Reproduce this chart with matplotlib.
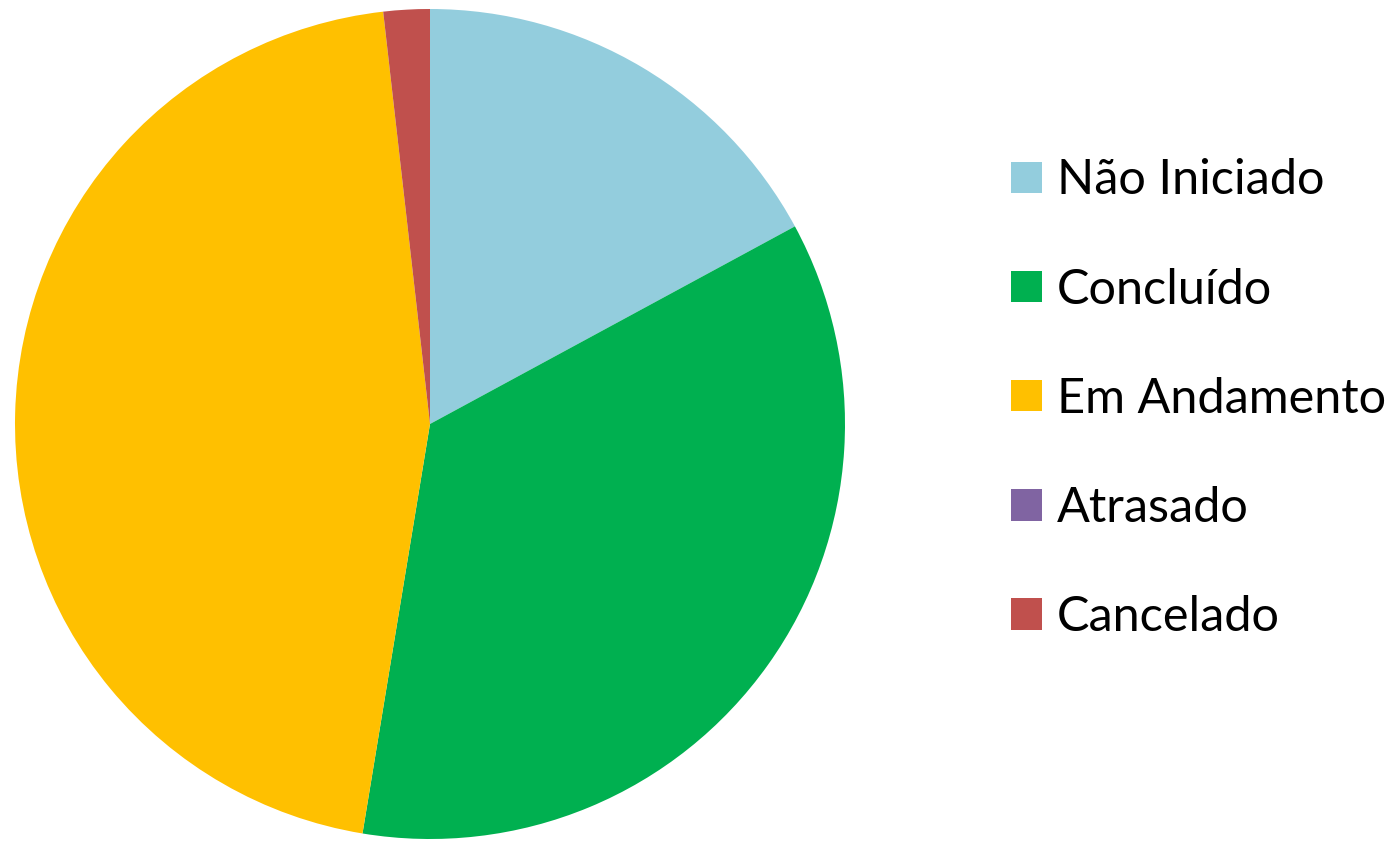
import matplotlib
matplotlib.use("Agg")
import matplotlib.pyplot as plt
from matplotlib.patches import Patch

plt.rcParams['font.family'] = ['Lato', 'DejaVu Sans']

categories = ["Não Iniciado", "Concluído", "Em Andamento", "Atrasado", "Cancelado"]
values = [17.1, 35.5, 45.6, 0.0, 1.8]
colors = ["#93CDDD", "#00B050", "#FFC000", "#8064A2", "#C0504D"]

fig = plt.figure(figsize=(13.97, 8.41), dpi=100)

# pie box: centre (430, 424), radius 415 px
r = 415
cx, cy = 430, 424
W, H = 1397, 841
ax = fig.add_axes([(cx - r) / W, (H - cy - r) / H, 2 * r / W, 2 * r / H])
ax.pie(values, colors=colors, startangle=90, counterclock=False,
       radius=1, wedgeprops=dict(linewidth=0))
ax.set_xlim(-1, 1)
ax.set_ylim(-1, 1)
ax.set_aspect('equal')
ax.axis('off')

handles = [Patch(facecolor=c, edgecolor='none') for c in colors]
fig.legend(handles, categories, loc='upper left',
           bbox_to_anchor=(992 / W, 1 - 139 / H),
           frameon=False, fontsize=35, handlelength=0.62, handleheight=0.62,
           handletextpad=0.31, labelspacing=1.34, borderaxespad=0)

fig.savefig("out.png", dpi=100)
